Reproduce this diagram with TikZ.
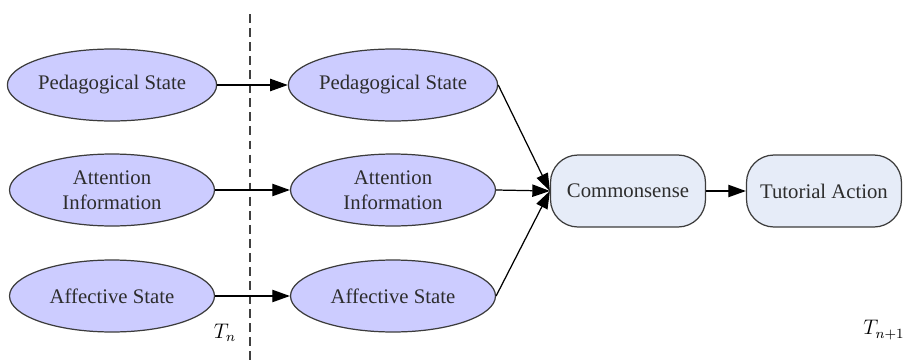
\documentclass[tikz,border=0pt]{standalone}
\usepackage{fontspec}
\setmainfont{Liberation Serif}
\usetikzlibrary{arrows.meta,shapes.geometric}

\definecolor{stateblue}{RGB}{204,204,255}
\definecolor{boxblue}{RGB}{230,236,248}
\definecolor{edgegray}{RGB}{60,60,60}
\definecolor{textgray}{RGB}{45,45,45}

\begin{document}
\begin{tikzpicture}[x=0.02cm,y=-0.02cm,line join=round,font=\fontsize{11.8}{14.5}\selectfont,
	state/.style={ellipse,draw=edgegray,fill=stateblue,text=textgray,line width=0.7pt,minimum width=4.1cm,minimum height=1.44cm,align=center,inner sep=0pt},
	stage/.style={rectangle,rounded corners=0.55cm,draw=edgegray,fill=boxblue,text=textgray,line width=0.7pt,minimum width=3.1cm,minimum height=1.44cm,align=center},
	flow/.style={-{Triangle[length=10pt,width=7pt]},line width=0.7pt,black}]
	\useasboundingbox (0,0) rectangle (907,362);
	% time boundary
	\draw[dash pattern=on 5pt off 3pt,line width=0.7pt,black!75] (250,14) -- (250,362);
	\node (tn) at (225,333) {$T_n$};
	\node (tnext) at (884,330) {$T_{n+1}$};
	% states at T_n
	\node[state] (pedA) at (112,85) {Pedagogical State};
	\node[state] (attA) at (112,190) {Attention\\Information};
	\node[state] (affA) at (112,296) {Affective State};
	% states at T_n+1
	\node[state] (pedB) at (393,85) {Pedagogical State};
	\node[state] (attB) at (393,190) {Attention\\Information};
	\node[state] (affB) at (393,296) {Affective State};
	% reasoning
	\node[stage] (common) at (628,191) {Commonsense};
	\node[stage] (tutor) at (824,191) {Tutorial Action};
	\draw[flow] (pedA) -- (pedB);
	\draw[flow] (attA) -- (attB);
	\draw[flow] (affA) -- (affB);
	\draw[flow] (pedB.east) -- (common.west);
	\draw[flow] (attB.east) -- (common.west);
	\draw[flow] (affB.east) -- (common.west);
	\draw[flow] (common) -- (tutor);
\end{tikzpicture}
\end{document}
